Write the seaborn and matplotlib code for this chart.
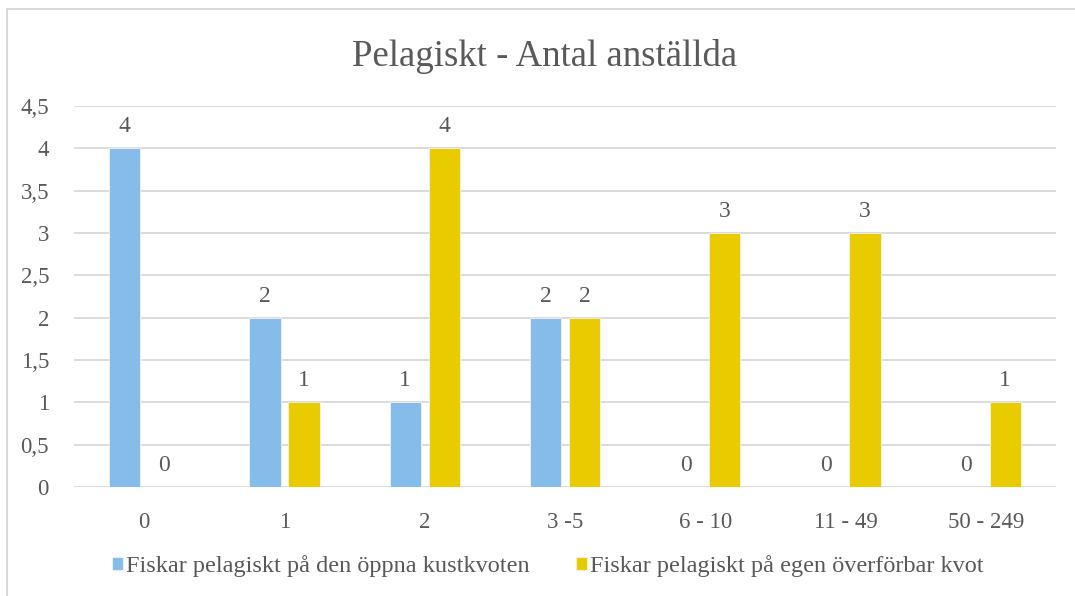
import matplotlib
matplotlib.use("Agg")
import matplotlib.pyplot as plt
import matplotlib.patches as mpatches
from matplotlib.ticker import FuncFormatter, MultipleLocator
import seaborn as sns
import pandas as pd

categories = ["0", "1", "2", "3 -5", "6 - 10", "11 - 49", "50 - 249"]
series_names = ["Fiskar pelagiskt på den öppna kustkvoten",
                "Fiskar pelagiskt på egen överförbar kvot"]
open_quota = [4, 2, 1, 2, 0, 0, 0]
own_quota = [0, 1, 4, 2, 3, 3, 1]
title = "Pelagiskt - Antal anställda"

colors = ["#86BCEA", "#E8CC00"]
text_color = "#595959"
grid_color = "#D9D9D9"

df = pd.DataFrame({
    "cat": categories * 2,
    "series": [series_names[0]] * len(categories) + [series_names[1]] * len(categories),
    "value": open_quota + own_quota,
})

sns.set_style("white")
plt.rcParams["font.family"] = ["Liberation Serif", "DejaVu Serif"]

fig = plt.figure(figsize=(10.75, 5.96), dpi=100)
ax = fig.add_axes([74 / 1075, 1 - 487 / 596, (1056 - 74) / 1075, (487 - 106) / 596])

sns.barplot(data=df, x="cat", y="value", hue="series", order=categories,
            hue_order=series_names, palette=colors, width=0.556, gap=0.2,
            saturation=1, ax=ax, legend=True, linewidth=0.6, edgecolor="#F2F2F2")

for cont in ax.containers:
    ax.bar_label(cont, fmt="%g", padding=8, fontsize=17, color=text_color)

ax.set_ylim(0, 4.5)
ax.yaxis.set_major_locator(MultipleLocator(0.5))
ax.yaxis.set_major_formatter(FuncFormatter(lambda v, p: f"{v:g}".replace(".", ",")))
ax.set_xlim(-0.5, len(categories) - 0.5)
ax.grid(axis="y", color=grid_color, linewidth=1.3)
ax.set_axisbelow(True)
for s in ax.spines.values():
    s.set_visible(False)
ax.tick_params(axis="y", length=0, pad=18, labelsize=16.5, labelcolor=text_color)
ax.tick_params(axis="x", length=0, pad=18, labelsize=16.5, labelcolor=text_color)
ax.set_xlabel("")
ax.set_ylabel("")

handles, labels = ax.get_legend_handles_labels()
ax.get_legend().remove()
fig.legend(handles, labels, loc="center", bbox_to_anchor=(548 / 1075, 1 - 566 / 596),
           ncol=2, frameon=False, fontsize=17.5, handlelength=0.45, handleheight=0.45,
           handletextpad=0.12, columnspacing=1.9, labelcolor=text_color)

fig.text(0.507, 1 - 56 / 596, title, ha="center", va="center", fontsize=26.5, color=text_color)

rect = mpatches.Rectangle((7 / 1075, -0.05), 1.1, 1 - 9 / 596 + 0.05, transform=fig.transFigure,
                          fill=False, edgecolor=grid_color, linewidth=1.5)
fig.patches.append(rect)

fig.savefig("out.png", dpi=100)
